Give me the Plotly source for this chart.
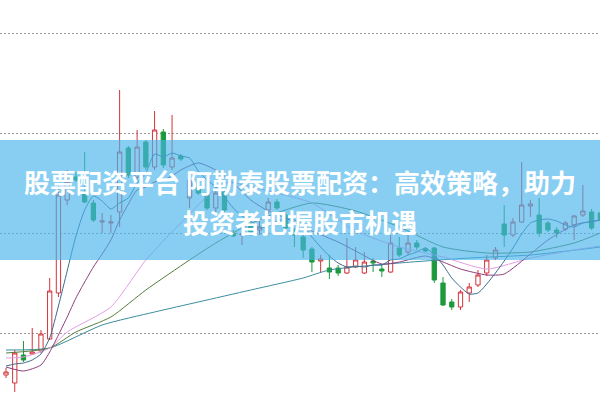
import plotly.graph_objects as go

idx = list(range(69))
opens = [3.58,3.50,3.78,3.79,3.82,3.94,4.40,5.33,5.56,5.41,5.30,5.11,5.10,5.21,5.85,5.56,5.91,5.66,6.01,5.66,
         5.77,5.35,5.45,5.40,5.25,5.41,5.00,4.98,5.07,5.03,5.23,5.31,5.18,5.03,4.96,4.84,4.72,4.65,4.65,4.60,
         4.66,4.60,4.72,4.64,4.61,4.85,4.81,4.90,4.84,4.85,4.50,4.31,4.26,4.40,4.48,4.60,4.75,5.09,4.98,5.11,
         5.27,5.18,5.10,5.03,5.04,5.08,5.18,5.21,5.20]
highs = [3.65,3.83,3.92,4.05,4.03,4.55,5.50,5.63,5.61,5.81,5.33,5.20,5.18,6.43,5.87,6.03,5.93,6.22,6.04,6.18,
         5.79,5.56,5.47,5.43,5.46,5.43,5.03,5.06,5.11,5.13,5.35,5.34,5.21,5.05,4.98,4.86,4.78,4.78,4.68,4.95,
         4.86,4.81,4.75,4.68,4.98,4.96,5.00,4.93,4.86,4.86,4.56,4.34,4.43,4.50,4.63,4.78,4.86,5.28,5.15,5.71,
         5.33,5.35,5.12,5.06,5.12,5.18,5.48,5.24,5.22]
lows = [3.55,3.41,3.71,3.78,3.80,3.93,4.36,5.28,5.51,5.30,5.11,5.00,5.00,5.06,5.55,5.53,5.63,5.63,5.65,5.63,
        5.72,5.25,5.38,5.23,5.21,5.21,4.96,4.88,4.97,4.98,5.19,5.23,5.03,4.86,4.75,4.61,4.61,4.54,4.57,4.59,
        4.65,4.59,4.61,4.56,4.60,4.76,4.78,4.83,4.81,4.50,4.27,4.23,4.23,4.31,4.46,4.57,4.73,4.86,4.96,5.10,
        5.16,4.96,5.01,4.95,5.02,4.93,5.16,5.03,5.11]
closes = [3.61,3.80,3.73,3.81,3.99,4.42,5.38,5.51,5.53,5.31,5.13,5.12,5.11,5.81,5.58,5.86,5.66,6.03,5.68,5.75,
          5.74,5.53,5.40,5.25,5.40,5.23,4.97,4.99,5.01,5.06,5.31,5.25,5.05,4.98,4.83,4.71,4.74,4.61,4.60,4.66,
          4.73,4.71,4.70,4.62,4.90,4.78,4.90,4.86,4.82,4.53,4.28,4.26,4.41,4.46,4.58,4.73,4.83,4.98,5.11,5.28,
          5.29,5.00,5.03,5.00,5.10,5.17,5.22,5.05,5.13]

ma5 = [3.67,3.69,3.70,3.73,3.79,3.95,4.27,4.62,4.97,5.23,5.37,5.32,5.24,5.30,5.35,5.50,5.60,5.79,5.76,5.80,
       5.77,5.75,5.62,5.53,5.46,5.36,5.25,5.17,5.12,5.05,5.07,5.12,5.14,5.13,5.08,4.96,4.86,4.77,4.70,4.66,
       4.67,4.66,4.68,4.68,4.73,4.74,4.78,4.81,4.85,4.78,4.68,4.55,4.46,4.39,4.40,4.49,4.60,4.72,4.85,4.99,
       5.10,5.13,5.14,5.12,5.08,5.06,5.10,5.11,5.13]

ma10_x = [0,2,4,5,6,7,8,9,10,11,12,13,14,15,16,17,18,19,20,22,24,26,28,30,32,35,38,40,43,45,48,50,52,55,57,60,62,65,68]
ma10_y = [3.66,3.62,3.68,3.81,3.98,4.16,4.35,4.51,4.66,4.79,4.93,5.13,5.29,5.43,5.46,5.51,5.53,5.57,5.63,5.70,
          5.63,5.50,5.33,5.22,5.15,5.02,4.91,4.82,4.69,4.71,4.77,4.71,4.64,4.58,4.59,4.79,4.93,5.08,5.13]

ma20_x = [0,2,5,7,12,16,20,25,30,35,40,45,50,55,60,65,68]
ma20_y = [3.75,3.76,3.85,4.01,4.26,4.73,5.10,5.50,5.42,5.30,5.02,4.86,4.76,4.64,4.75,4.83,4.87]

ma30_x = [0,5,8,12,16,21,24,27,30,35,40,45,50,55,60,65,68]
ma30_y = [3.80,3.85,4.01,4.16,4.43,4.73,4.90,5.05,5.17,5.30,5.22,5.06,4.86,4.80,4.81,4.90,5.00]

ma60_x = [0,5,11,17,22,28,34,37,45,53,60,68]
ma60_y = [3.83,3.85,4.08,4.21,4.31,4.43,4.55,4.63,4.70,4.75,4.78,4.86]

title_1 = "股票配资平台 阿勒泰股票配资：高效策略，助力"
title_2 = "投资者把握股市机遇"

fig = go.Figure()

lines = [
    (ma60_x, ma60_y, "#3a8e9e"),
    (ma30_x, ma30_y, "#557d3b"),
    (ma20_x, ma20_y, "#e49de4"),
    (ma10_x, ma10_y, "#8e3b7d"),
    (idx, ma5, "#3d6a8a"),
]
for xs, ys, col in lines:
    fig.add_trace(go.Scatter(x=xs, y=ys, mode="lines", line=dict(color=col, width=1, shape="spline", smoothing=0.6),
                             hoverinfo="skip", showlegend=False))

fig.add_trace(go.Candlestick(
    x=idx, open=opens, high=highs, low=lows, close=closes,
    increasing=dict(line=dict(color="#d4343c", width=1), fillcolor="white"),
    decreasing=dict(line=dict(color="#1c9a3c", width=1), fillcolor="#1c9a3c"),
    whiskerwidth=0, showlegend=False,
))

fig.add_shape(type="rect", xref="paper", yref="paper", x0=0, x1=1, y0=0.35, y1=0.65,
              fillcolor="rgba(70,180,235,0.65)", line=dict(width=0), layer="above")

fig.add_annotation(text=title_1, xref="paper", yref="paper", x=0.5, y=0.5475, xanchor="center", yanchor="middle",
                   showarrow=False, font=dict(family="Noto Sans CJK SC", size=26, color="white", weight="bold"))
fig.add_annotation(text=title_2, xref="paper", yref="paper", x=0.5, y=0.4475, xanchor="center", yanchor="middle",
                   showarrow=False, font=dict(family="Noto Sans CJK SC", size=26, color="white", weight="bold"))

fig.update_layout(
    width=600, height=400, margin=dict(l=0, r=0, t=0, b=0),
    paper_bgcolor="white", plot_bgcolor="white", showlegend=False,
    xaxis=dict(range=[-0.686, 67.96], showticklabels=False, showgrid=False, zeroline=False,
               rangeslider=dict(visible=False), fixedrange=True),
    yaxis=dict(range=[3.33, 7.33], tickvals=[4, 5, 6, 7], showticklabels=False, showgrid=True,
               gridcolor="#9a9a9a", griddash="2px,2px", gridwidth=1, zeroline=False, fixedrange=True),
)

fig.write_html("out.html", config={"displayModeBar": False},
               post_script="document.body.style.margin='0';document.body.style.overflow='hidden';")
